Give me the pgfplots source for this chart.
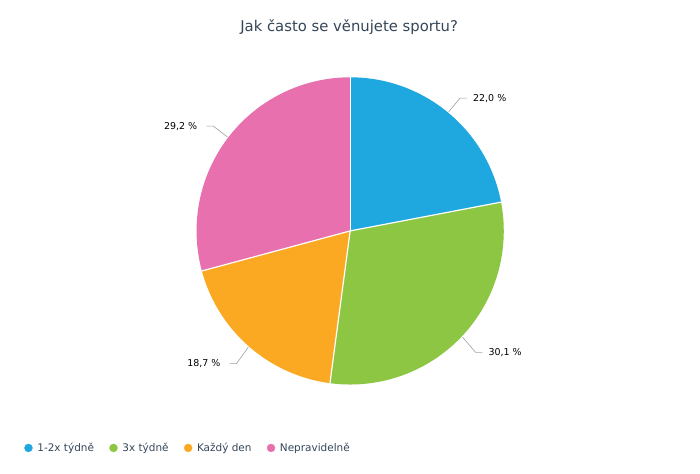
\documentclass[border=0pt]{standalone}
\usepackage{pgfplots}
\usepackage{pgfplotstable}
\pgfplotsset{compat=1.18}
\usetikzlibrary{calc}
\usepackage{fontspec}
\setmainfont{DejaVu Sans}
\definecolor{cA}{RGB}{31,168,224}
\definecolor{cB}{RGB}{140,198,67}
\definecolor{cC}{RGB}{251,169,35}
\definecolor{cD}{RGB}{232,112,174}
\definecolor{titlec}{RGB}{52,70,88}
\definecolor{leadc}{RGB}{160,160,160}

\pgfplotstableread[col sep=comma]{
name,value,col,side
1-2x týdně,22.0,cA,1
3x týdně,30.1,cB,1
Každý den,18.7,cC,-1
Nepravidelně,29.2,cD,-1
}\piedata

\begin{document}
% cumulative angles (clockwise from 12 o'clock)
\def\cum{0}
\pgfplotsforeachungrouped \i in {0,...,3}{%
  \pgfplotstablegetelem{\i}{value}\of\piedata
  \let\v\pgfplotsretval
  \pgfmathsetmacro\a{90-3.6*\cum}%
  \pgfmathsetmacro\cumnew{\cum+\v}%
  \pgfmathsetmacro\b{90-3.6*\cumnew}%
  \pgfmathsetmacro\m{(\a+\b)/2}%
  \pgfmathsetmacro\dy{sin(\m)<0 ? -3 : 0}%
  \expandafter\xdef\csname sA\i\endcsname{\a}%
  \expandafter\xdef\csname sB\i\endcsname{\b}%
  \expandafter\xdef\csname sM\i\endcsname{\m}%
  \expandafter\xdef\csname sY\i\endcsname{\dy}%
  \expandafter\xdef\csname sV\i\endcsname{\v}%
  \pgfplotstablegetelem{\i}{col}\of\piedata
  \expandafter\xdef\csname sC\i\endcsname{\pgfplotsretval}%
  \pgfplotstablegetelem{\i}{side}\of\piedata
  \expandafter\xdef\csname sS\i\endcsname{\pgfplotsretval}%
  \let\cum\cumnew
}
\begin{tikzpicture}
\useasboundingbox (0,0) rectangle (700bp,478bp);
\begin{axis}[
  anchor=origin, at={(0bp,0bp)},
  x=1bp, y=1bp,
  xmin=0, xmax=700, ymin=0, ymax=478,
  hide axis,
  clip=false,
  /pgf/number format/assume math mode=true,
  legend columns=4,
  legend style={at={(axis cs:18,26)}, anchor=west, draw=none, fill=none,
    font=\fontsize{10.6}{12}\selectfont, text=titlec,
    /tikz/every even column/.style={column sep=13.5bp},
    inner sep=0pt},
  legend cell align=left,
  legend image code/.code={\fill[#1] (4bp,0bp) circle (4bp); \path[draw=none,fill=none] (0bp,0bp) -- (11bp,0bp);},
]
\path[fill=white] (axis cs:-5,-5) rectangle (axis cs:705,483);
\pgfplotsinvokeforeach{0,...,3}{
  \fill[\csname sC#1\endcsname] (axis cs:347,245) -- ++(\csname sA#1\endcsname:155bp)
     arc[start angle=\csname sA#1\endcsname, end angle=\csname sB#1\endcsname, radius=155bp] -- cycle;
}
\pgfplotsinvokeforeach{0,...,3}{
  \draw[white, line width=1.2bp] (axis cs:347,245) -- ++(\csname sA#1\endcsname:155bp);
  \draw[leadc, line width=0.6bp] ($(axis cs:347,245)+(\csname sM#1\endcsname:156bp)$)
     -- ($(axis cs:347,245)+(\csname sM#1\endcsname:174bp)+(0,\csname sY#1\endcsname bp)$)
     -- ++(\csname sS#1\endcsname*7bp,0) coordinate (L#1);
  \node[font=\fontsize{9.6}{11}\selectfont, anchor={180+90*(\csname sS#1\endcsname-1)}, inner sep=0bp,
        xshift={\csname sS#1\endcsname*(7.5-1.5*\csname sS#1\endcsname)*1bp}]
     at (L#1) {\pgfmathprintnumber[fixed, fixed zerofill, precision=1, use comma]{\csname sV#1\endcsname}~\%};
}
\node[font=\fontsize{15}{18}\selectfont, text=titlec] at (axis cs:346,451) {Jak často se věnujete sportu?};
\addlegendimage{cA}\addlegendentry{1-2x týdně}
\addlegendimage{cB}\addlegendentry{3x týdně}
\addlegendimage{cC}\addlegendentry{Každý den}
\addlegendimage{cD}\addlegendentry{Nepravidelně}
\end{axis}
\end{tikzpicture}
\end{document}
